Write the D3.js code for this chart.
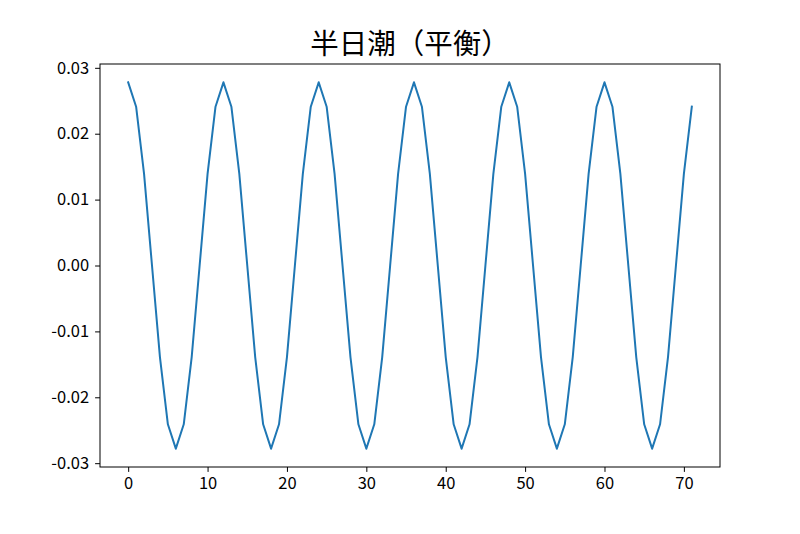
<!DOCTYPE html>
<html><head><meta charset="utf-8">
<script src="https://cdn.jsdelivr.net/npm/d3@7"></script>
<style>body{margin:0;background:#fff}svg{display:block}</style>
</head><body>
<script>
const title = "半日潮（平衡）";
const hours = d3.range(0, 72);
const tide = [
 0.0278, 0.0241, 0.0139, 0.0000, -0.0139, -0.0241, -0.0278, -0.0241, -0.0139, 0.0000, 0.0139, 0.0241,
 0.0278, 0.0241, 0.0139, 0.0000, -0.0139, -0.0241, -0.0278, -0.0241, -0.0139, 0.0000, 0.0139, 0.0241,
 0.0278, 0.0241, 0.0139, 0.0000, -0.0139, -0.0241, -0.0278, -0.0241, -0.0139, 0.0000, 0.0139, 0.0241,
 0.0278, 0.0241, 0.0139, 0.0000, -0.0139, -0.0241, -0.0278, -0.0241, -0.0139, 0.0000, 0.0139, 0.0241,
 0.0278, 0.0241, 0.0139, 0.0000, -0.0139, -0.0241, -0.0278, -0.0241, -0.0139, 0.0000, 0.0139, 0.0241,
 0.0278, 0.0241, 0.0139, 0.0000, -0.0139, -0.0241, -0.0278, -0.0241, -0.0139, 0.0000, 0.0139, 0.0241
];
const xTicks = [0, 10, 20, 30, 40, 50, 60, 70];
const yTicks = [-0.03, -0.02, -0.01, 0.00, 0.01, 0.02, 0.03];

const W = 800, H = 534;
const m = {left: 100, right: 80, top: 64, bottom: 67};
const font = "'Noto Sans CJK SC', 'Noto Sans', sans-serif";

const svg = d3.select("body").append("svg").attr("width", W).attr("height", H);

const xPad = (71 - 0) * 0.05;
const x = d3.scaleLinear().domain([0 - xPad, 71 + xPad]).range([m.left, W - m.right]);
const yMax = d3.max(tide), yMin = d3.min(tide);
const yPad = (yMax - yMin) * 0.05;
const y = d3.scaleLinear().domain([yMin - yPad, yMax + yPad]).range([H - m.bottom, m.top]);

const xAxis = svg.append("g").attr("transform", `translate(0,${H - m.bottom})`)
  .call(d3.axisBottom(x).tickValues(xTicks).tickSize(4.9).tickPadding(5).tickFormat(d3.format("d")));
const yAxis = svg.append("g").attr("transform", `translate(${m.left},0)`)
  .call(d3.axisLeft(y).tickValues(yTicks).tickSize(4.9).tickPadding(6)
    .tickFormat(d => d3.format(".2f")(d).replace("−", "-")));

[xAxis, yAxis].forEach(g => {
  g.select(".domain").remove();
  g.selectAll("line").attr("stroke", "#000").attr("stroke-width", 1);
  g.selectAll("text").attr("fill", "#000").style("font-family", font).style("font-size", "16.5px");
});

svg.append("rect").attr("x", m.left).attr("y", m.top)
  .attr("width", W - m.left - m.right).attr("height", H - m.top - m.bottom)
  .attr("fill", "none").attr("stroke", "#000").attr("stroke-width", 1);

const line = d3.line().x((d, i) => x(hours[i])).y(d => y(d));
svg.append("path").datum(tide).attr("d", line)
  .attr("fill", "none").attr("stroke", "#1f77b4").attr("stroke-width", 2)
  .attr("stroke-linejoin", "round").attr("stroke-linecap", "square");

svg.append("text").attr("x", (m.left + W - m.right) / 2).attr("y", 54)
  .attr("text-anchor", "middle").style("font-family", font).style("font-size", "28.5px")
  .attr("fill", "#000").text(title);
</script>
</body></html>
